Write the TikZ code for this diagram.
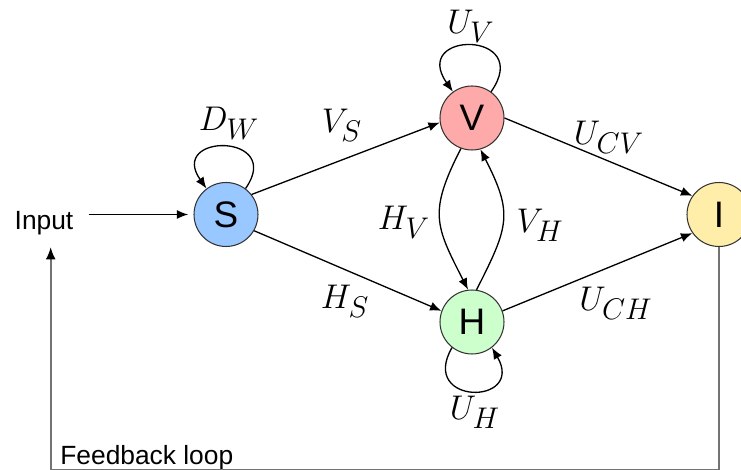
\RequirePackage{fix-cm}
\documentclass[tikz,border=0pt]{standalone}
\usepackage{fontspec}
\setsansfont{Liberation Sans}
\usetikzlibrary{arrows.meta}
\DeclareMathSizes{19.5}{19.5}{17}{12}
\definecolor{sfill}{RGB}{153,199,255}
\definecolor{vfill}{RGB}{255,170,170}
\definecolor{hfill}{RGB}{204,255,204}
\definecolor{ifill}{RGB}{255,238,170}
\definecolor{fbgray}{RGB}{115,115,115}
\begin{document}
\begin{tikzpicture}[x=0.02cm,y=0.02cm,
  state/.style={circle,draw=black!80,line width=0.6pt,minimum size=1.28cm,inner sep=0pt,
    font=\fontsize{21}{24}\sffamily},
  lab/.style={font=\fontsize{19.5}{22}\selectfont,inner sep=0pt},
  txt/.style={font=\fontsize{15}{18}\sffamily},
  edge/.style={line width=0.75pt,-{Latex[length=6.5pt,width=5.2pt]}},
  fb/.style={line width=1pt,draw=fbgray},
  fbarrow/.style={-{Latex[length=7pt,width=5.6pt,color=black]}}]
\useasboundingbox (0,0) rectangle (741,470);

% states
\node[state,fill=sfill] (S) at (226,255.5) {S};
\node[state,fill=vfill] (V) at (472,352) {V};
\node[state,fill=hfill] (H) at (472,148) {H};
\node[state,fill=ifill] (I) at (719,255.5) {I};

% texts
\node[txt,anchor=base,inner xsep=8.5pt,inner ysep=6.8pt] (In) at (44,240.7) {Input};
\node[txt,anchor=base west,inner sep=0pt] (FB) at (60,5) {Feedback loop};

% labels
\node[lab] (lDW) at (229,347) {$D_W$};
\node[lab] (lUV) at (471,444) {$U_V$};
\node[lab] (lVS) at (342,345) {$V_S$};
\node[lab] (lUCV) at (609,333) {$U_{CV}$};
\node[lab] (lHV) at (404,248) {$H_V$};
\node[lab] (lVH) at (540,245) {$V_H$};
\node[lab] (lHS) at (345,169) {$H_S$};
\node[lab] (lUCH) at (616,167) {$U_{CH}$};
\node[lab] (lUH) at (475,58) {$U_H$};

% straight edges
\draw[edge,shorten >=3pt] (In.east |- S) -- (S);
\draw[edge] (S.38) -- (V.188);
\draw[edge] (S.330) -- (H.160);
\draw[edge] (V.0) -- (I.145);
\draw[edge] (H.20) -- (I.215);

% arcs between V and H
\draw[edge] (V.250) to[out=243,in=117,distance=1.44cm] (H.97);
\draw[edge] (H.82) to[out=63,in=297,distance=1.44cm] (V.285);

% self loops
\draw[edge] (S.53) to[out=55,in=125,distance=1.36cm] (S.127);
\draw[edge] (V.54) to[out=55,in=125,distance=1.5cm] (V.126);
\draw[edge] (H.232) to[out=240,in=300,distance=1.34cm] (H.308);

% feedback loop
\coordinate (c1) at (719,0.3);
\coordinate (c2) at (50.7,0.3);
\draw[fb,fbarrow] (I) -- (c1) -- (c2) -- (In.south -| c2);
\end{tikzpicture}
\end{document}
